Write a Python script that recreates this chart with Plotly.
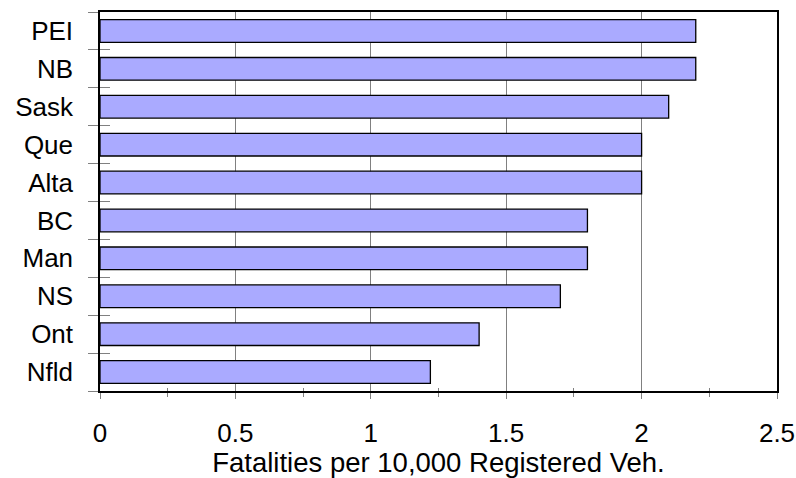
import plotly.graph_objects as go

# Provinces, listed bottom-to-top as drawn on the category axis
provinces = ["Nfld", "Ont", "NS", "Man", "BC", "Alta", "Que", "Sask", "NB", "PEI"]
fatality_rate = [1.22, 1.4, 1.7, 1.8, 1.8, 2.0, 2.0, 2.1, 2.2, 2.2]

x_ticks = [0, 0.5, 1, 1.5, 2, 2.5]
x_tick_labels = ["0", "0.5", "1", "1.5", "2", "2.5"]
x_title = "Fatalities per 10,000 Registered Veh."

font_family = "Liberation Sans, Arial, sans-serif"
tick_gray = "#808080"

fig = go.Figure()

fig.add_trace(go.Bar(
    x=fatality_rate,
    y=provinces,
    orientation="h",
    marker=dict(color="#AAAAFF", line=dict(color="black", width=1.3)),
    hoverinfo="x+y",
))

# Invisible companion trace so the overlay axes (inner tick halves) are drawn
fig.add_trace(go.Scatter(
    x=fatality_rate, y=provinces, xaxis="x2", yaxis="y2",
    mode="markers", marker=dict(size=1, opacity=0),
    hoverinfo="skip", showlegend=False,
))

fig.update_layout(
    width=796,
    height=478,
    margin=dict(l=100, r=19, t=12, b=87),
    paper_bgcolor="white",
    plot_bgcolor="white",
    bargap=0.4,
    showlegend=False,
    font=dict(family=font_family, size=26, color="black"),
    xaxis=dict(
        range=[0, 2.5],
        tickvals=x_ticks,
        ticktext=x_tick_labels,
        ticks="outside",
        ticklen=6,
        tickwidth=1,
        tickcolor=tick_gray,
        minor=dict(dtick=0.25, ticks="outside", ticklen=4, tickcolor=tick_gray, showgrid=False),
        showgrid=True,
        gridcolor=tick_gray,
        gridwidth=1.2,
        showline=True,
        linecolor="black",
        linewidth=1.5,
        mirror=True,
        zeroline=False,
        automargin=False,
        ticklabelstandoff=12,
        tickfont=dict(size=26),
        title=dict(text=x_title, font=dict(size=27.5), standoff=2),
    ),
    yaxis=dict(
        type="category",
        categoryorder="array",
        categoryarray=provinces,
        range=[-0.5, 9.5],
        tickson="boundaries",
        ticks="outside",
        ticklen=10,
        tickwidth=1.2,
        tickcolor=tick_gray,
        showgrid=False,
        showline=True,
        linecolor="black",
        linewidth=1.5,
        mirror=True,
        automargin=False,
        ticklabelstandoff=20,
        tickfont=dict(size=26),
    ),
    xaxis2=dict(
        overlaying="x",
        range=[0, 2.5],
        tickvals=x_ticks,
        ticks="inside",
        ticklen=5,
        tickwidth=1,
        tickcolor=tick_gray,
        minor=dict(dtick=0.25, ticks="inside", ticklen=3, tickcolor=tick_gray, showgrid=False),
        showticklabels=False,
        showgrid=False,
        showline=False,
        zeroline=False,
        automargin=False,
        side="bottom",
    ),
    yaxis2=dict(
        overlaying="y",
        type="category",
        categoryorder="array",
        categoryarray=provinces,
        range=[-0.5, 9.5],
        tickson="boundaries",
        ticks="inside",
        ticklen=10,
        tickwidth=1.2,
        tickcolor=tick_gray,
        showticklabels=False,
        showgrid=False,
        showline=False,
        automargin=False,
        side="left",
    ),
)

fig.write_html("out.html")
